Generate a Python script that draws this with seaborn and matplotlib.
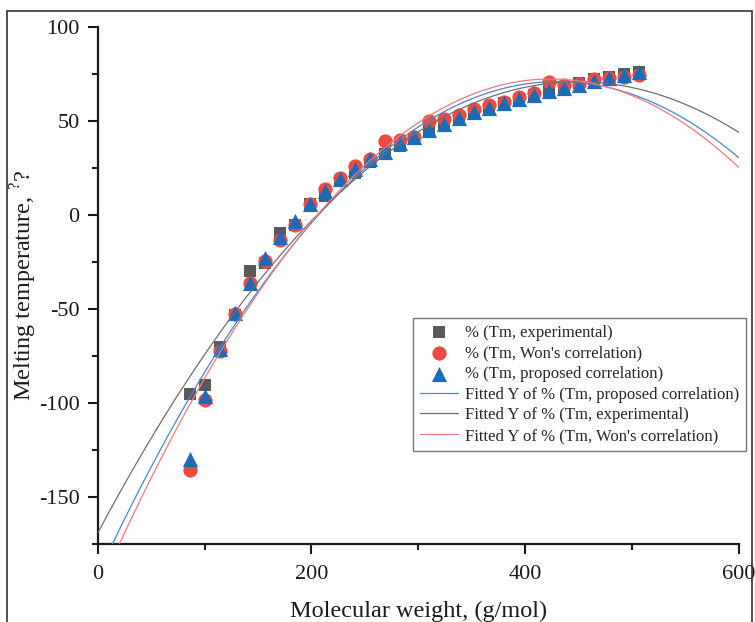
import numpy as np
import pandas as pd
import matplotlib
matplotlib.use("Agg")
import matplotlib.pyplot as plt
from matplotlib.patches import Rectangle
from matplotlib.ticker import MultipleLocator
import seaborn as sns

# Molecular weight of the n-alkane series (g/mol)
mw = [86.18, 100.2, 114.23, 128.26, 142.28, 156.31, 170.34, 184.37, 198.39,
      212.42, 226.45, 240.47, 254.5, 268.53, 282.56, 296.58, 310.61, 324.64,
      338.66, 352.69, 366.72, 380.74, 394.77, 408.8, 422.82, 436.85, 450.88,
      464.9, 478.93, 492.96, 506.99]

# Melting temperatures
tm_experimental = [-95.3, -90.6, -70.5, -53.5, -29.7, -25.6, -9.6, -5.4, 5.9,
                   9.9, 18.2, 22.0, 28.2, 32.1, 36.8, 40.5, 44.4, 47.6, 50.9,
                   53.5, 56.4, 59.5, 61.1, 63.7, 65.8, 67.9, 70.0, 72.0, 73.5,
                   75.0, 76.0]
tm_won = [-135.4, -98.2, -72.5, -52.5, -36.5, -24.5, -13.6, -5.3, 5.5, 13.8,
          19.8, 26.0, 29.5, 39.3, 39.8, 41.5, 50.1, 50.8, 53.1, 56.1, 58.3,
          60.2, 62.8, 65.0, 70.6, 69.2, 69.8, 72.0, 72.5, 73.4, 74.2]
tm_proposed = [-129.7, -96.4, -71.3, -52.2, -36.0, -23.0, -11.8, -3.2, 6.0,
               12.6, 18.9, 24.5, 29.5, 33.6, 38.0, 41.2, 45.0, 48.5, 51.3,
               54.4, 56.8, 59.3, 61.6, 63.7, 65.8, 67.6, 69.2, 71.0, 72.6,
               74.3, 76.0]

sns.set_theme(style="ticks")
plt.rcParams["font.family"] = ["Liberation Serif", "DejaVu Serif"]
plt.rcParams["mathtext.fontset"] = "custom"
plt.rcParams["mathtext.rm"] = "Liberation Serif"
plt.rcParams["axes.unicode_minus"] = False

c_exp = "#595959"
c_won = "#EE4B40"
c_pro = "#1A6BBA"
l_pro = "#4A86D0"
l_exp = "#6E6E6E"
l_won = "#F27A7A"

fig = plt.figure(figsize=(7.55, 6.22), dpi=100)
ax = fig.add_axes([97.7 / 755, 1 - 544 / 622, (738.6 - 97.7) / 755, (544 - 26.7) / 622])

df = pd.DataFrame({"mw": mw, "exp": tm_experimental, "won": tm_won, "pro": tm_proposed})

sns.scatterplot(data=df, x="mw", y="exp", marker="s", s=80, color=c_exp,
                linewidth=0, ax=ax, label="% (Tm, experimental)", zorder=3)
sns.scatterplot(data=df, x="mw", y="won", marker="o", s=105, color=c_won,
                linewidth=0, ax=ax, label="% (Tm, Won's correlation)", zorder=4)
sns.scatterplot(data=df, x="mw", y="pro", marker="^", s=120, color=c_pro,
                linewidth=0, ax=ax, label="% (Tm, proposed correlation)", zorder=5)

# Second-order polynomial fits of each series
xfit = np.linspace(0, 600, 400)
fits = [("pro", l_pro, "Fitted Y of % (Tm, proposed correlation)"),
        ("exp", l_exp, "Fitted Y of % (Tm, experimental)"),
        ("won", l_won, "Fitted Y of % (Tm, Won's correlation)")]
for col, color, lab in fits:
    coef = np.polyfit(df["mw"], df[col], 2)
    sns.lineplot(x=xfit, y=np.polyval(coef, xfit), color=color, linewidth=0.9,
                 ax=ax, label=lab, zorder=6)

ax.set_xlim(0, 600)
ax.set_ylim(-175, 100)
ax.xaxis.set_major_locator(MultipleLocator(200))
ax.xaxis.set_minor_locator(MultipleLocator(100))
ax.yaxis.set_major_locator(MultipleLocator(50))
ax.yaxis.set_minor_locator(MultipleLocator(25))

for side in ("top", "right"):
    ax.spines[side].set_visible(False)
for side in ("left", "bottom"):
    ax.spines[side].set_linewidth(1.6)
    ax.spines[side].set_color("#1a1a1a")

ax.tick_params(which="major", direction="out", length=7, width=1.5,
               labelsize=16, colors="#1a1a1a")
ax.tick_params(axis="x", which="major", pad=8)
ax.tick_params(axis="y", which="major", pad=6)
ax.tick_params(which="minor", direction="out", length=4, width=1.5,
               colors="#1a1a1a")

ax.set_xlabel("Molecular weight, (g/mol)", fontsize=17.5, labelpad=12, color="#1a1a1a")
ax.set_ylabel(r"Melting temperature, $^\mathregular{?}$?", fontsize=17.5,
              color="#1a1a1a")
ax.yaxis.set_label_coords(-0.091, 0.5)

leg = ax.legend(loc="upper left", bbox_to_anchor=(0.492, 0.437), borderaxespad=0,
                fontsize=12, frameon=True, fancybox=False, handlelength=2.3,
                handletextpad=0.4, labelspacing=0.28, borderpad=0.4,
                edgecolor="#777777", framealpha=1)
leg.get_frame().set_linewidth(1.0)

# Outer frame around the figure
fig.patches.append(Rectangle((7 / 755, -0.05), (752 - 7) / 755, 1.05 - 11 / 622,
                             transform=fig.transFigure, fill=False,
                             edgecolor="#333333", linewidth=1.2, zorder=0))

fig.savefig("out.png", dpi=100, facecolor="white")
